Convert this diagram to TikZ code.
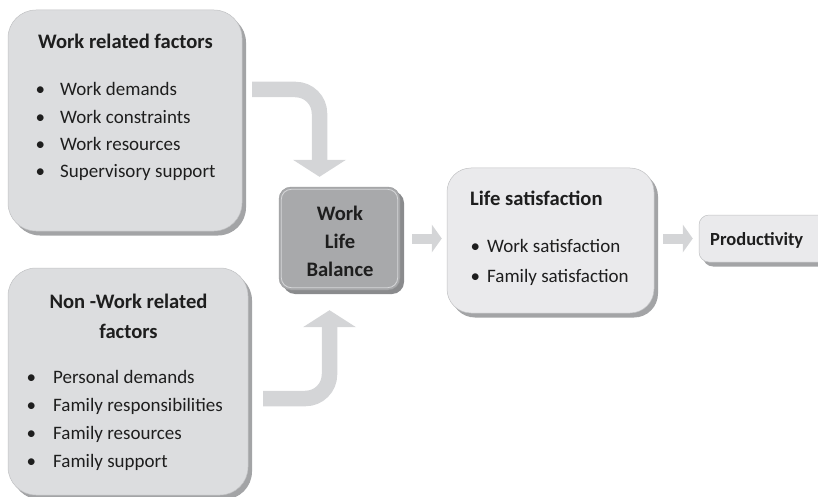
\documentclass[tikz,border=0pt]{standalone}
\usepackage{fontspec}
\setmainfont{Carlito}
\usetikzlibrary{arrows.meta,shadows}

\definecolor{boxfill}{RGB}{220,221,223}
\definecolor{lightfill}{RGB}{234,234,236}
\definecolor{boxshade}{RGB}{163,164,166}
\definecolor{boxline}{RGB}{192,193,195}
\definecolor{hubfill}{RGB}{168,169,171}
\definecolor{hubshade}{RGB}{138,139,141}
\definecolor{hubglow}{RGB}{214,215,217}
\definecolor{arrowfill}{RGB}{212,213,215}
\definecolor{ink}{RGB}{30,30,30}

\tikzset{
  panel/.style={draw=boxline, line width=0.5pt, fill=boxfill, rounded corners=28pt,
    general shadow={fill=boxshade, shadow xshift=4pt, shadow yshift=-4.5pt}},
  hub/.style={draw=hubfill!90!black, line width=0.4pt, fill=hubfill, rounded corners=12pt,
    general shadow={fill=hubshade, shadow xshift=4pt, shadow yshift=-4pt}},
  title/.style={text=ink, inner sep=0pt, anchor=base west, font=\fontsize{20.6}{24}\selectfont\bfseries},
  item/.style={text=ink, inner sep=0pt, anchor=base west, font=\fontsize{19}{22}\selectfont},
  bigarrow/.style={draw=arrowfill, line width=15.5pt, rounded corners=24pt,
    -{Triangle[length=17pt,width=53pt,line width=0pt 0 0]}},
  smallarrow/.style={draw=arrowfill, line width=10pt,
    -{Triangle[length=10pt,width=28pt,line width=0pt 0 0]}}
}

\begin{document}
\begin{tikzpicture}[x=1pt, y=-1pt]
\useasboundingbox (0,0) rectangle (818,497);

\node[panel, minimum width=234pt, minimum height=221pt] (wrf) at (125,120.5) {};
\node[panel, minimum width=240pt, minimum height=227pt] (nwf) at (128,381.5) {};
\node[hub, minimum width=121pt, minimum height=103pt] (wlb) at (339.5,238.5) {};
\draw[hubglow, line width=0.8pt, rounded corners=10pt]
  ([shift={(2.5pt,-2.5pt)}]wlb.north west) rectangle ([shift={(-2.5pt,2.5pt)}]wlb.south east);
\node[panel, fill=lightfill, rounded corners=24pt, minimum width=207pt, minimum height=145pt] (lsat) at (550.5,240.5) {};
\node[panel, fill=lightfill, rounded corners=10pt, minimum width=141pt, minimum height=47pt] (prod) at (769.5,238.5) {};

\node[title] (wrf-title) at (38,49) {Work related factors};
\foreach \txt [count=\i] in {Work demands, Work constraints, Work resources, Supervisory support}
  \node[item] (wrf-\i) at (35.5,68.7+27.3*\i) {\makebox[24.5pt][l]{\textbullet}\txt};

\node[title, anchor=base] (nwf-title) at (128.5,308) {Non -Work related};
\node[title, anchor=base] (nwf-title-2) at (128.5,338) {factors};
\foreach \txt [count=\i] in {Personal demands, Family responsibilities, Family resources, Family support}
  \node[item] (nwf-\i) at (26.5,355+28*\i) {\makebox[26.5pt][l]{\textbullet}\txt};

\foreach \w [count=\i] in {Work, Life, Balance}
  \node[title, anchor=base] (wlb-\i) at (340,192+28*\i) {\w};

\node[title] (lsat-title) at (470,205) {Life satisfaction};
\foreach \txt [count=\i] in {Work satisfaction, Family satisfaction}
  \node[item] (lsat-\i) at (470.5,222+30*\i) {\makebox[16.5pt][l]{\textbullet}\txt};

\node[title, font=\fontsize{18.5}{22}\selectfont\bfseries] (prod-title) at (710,245) {Productivity};

\coordinate (wrf-out) at (252,89.5);
\coordinate (nwf-out) at (263,398.5);
\draw[bigarrow] (wrf-out) -| ([xshift=-20pt,yshift=10pt]wlb.north);
\draw[bigarrow] (nwf-out) -| ([xshift=-10pt,yshift=-20pt]wlb.south);
\draw[smallarrow] ([xshift=12pt]wlb.east) -- ([xshift=-5pt]lsat.west |- wlb.east);
\draw[smallarrow] ([xshift=9pt]lsat.east |- prod.west) -- ([xshift=-6pt]prod.west);
\end{tikzpicture}
\end{document}
